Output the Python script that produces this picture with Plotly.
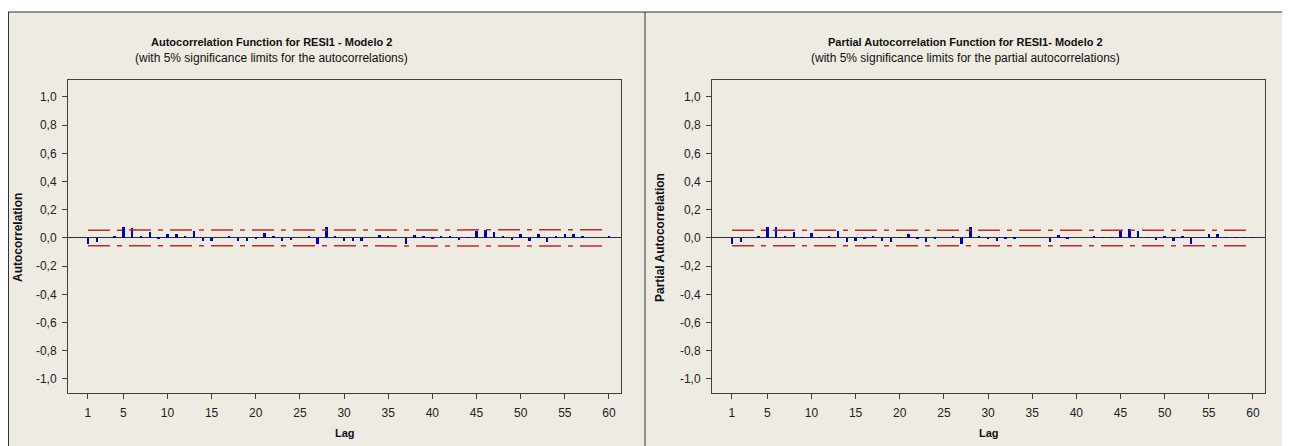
import plotly.graph_objects as go

# ---------------- data ----------------
lags = list(range(1, 61))

acf_values = [
    -0.040, -0.030, 0.000, 0.010, 0.075, 0.070, 0.010, 0.045, -0.010, 0.030,
    0.030, 0.010, 0.050, -0.025, -0.020, 0.000, 0.010, -0.020, -0.025, -0.005,
    0.035, 0.010, -0.025, -0.015, 0.000, 0.010, -0.045, 0.075, 0.010, -0.020,
    -0.025, -0.020, 0.000, 0.020, 0.010, 0.000, -0.040, 0.020, 0.010, -0.005,
    0.010, 0.010, -0.015, 0.005, 0.050, 0.055, 0.040, 0.010, -0.015, 0.030,
    -0.025, 0.025, -0.030, 0.010, 0.025, 0.025, 0.010, 0.000, 0.000, 0.010,
]

pacf_values = [
    -0.040, -0.030, 0.000, 0.010, 0.075, 0.075, 0.010, 0.045, 0.005, 0.035,
    0.005, 0.010, 0.050, -0.030, -0.020, -0.005, 0.010, -0.025, -0.030, 0.005,
    0.030, -0.010, -0.030, -0.005, 0.000, 0.010, -0.045, 0.075, 0.010, -0.005,
    -0.025, -0.010, -0.010, 0.000, 0.000, 0.000, -0.030, 0.020, -0.010, 0.000,
    0.000, 0.010, 0.005, 0.005, 0.050, 0.060, 0.050, 0.005, -0.015, 0.010,
    -0.025, 0.010, -0.040, 0.005, 0.025, 0.025, 0.005, 0.005, 0.005, 0.005,
]

n_obs = 1320  # series length implied by the 5% limits (2/sqrt(n) ~ 0.055)

y_tick_vals = [1.0, 0.8, 0.6, 0.4, 0.2, 0.0, -0.2, -0.4, -0.6, -0.8, -1.0]
y_tick_text = ["1,0", "0,8", "0,6", "0,4", "0,2", "0,0", "-0,2", "-0,4", "-0,6", "-0,8", "-1,0"]
x_tick_vals = [1, 5, 10, 15, 20, 25, 30, 35, 40, 45, 50, 55, 60]

titles = [
    "Autocorrelation Function for RESI1 - Modelo 2",
    "Partial Autocorrelation Function for RESI1- Modelo 2",
]
subtitles = [
    "(with 5% significance limits for the autocorrelations)",
    "(with 5% significance limits for the partial autocorrelations)",
]
y_titles = ["Autocorrelation", "Partial Autocorrelation"]
x_title = "Lag"

# ---------------- limits ----------------
# ACF: Bartlett limits (widen with lag); PACF: constant 2/sqrt(n)
acf_limit = []
s = 0.0
for r in acf_values:
    acf_limit.append(2 * ((1 + 2 * s) / n_obs) ** 0.5)
    s += r * r
pacf_limit = [2 / n_obs ** 0.5 for _ in lags]

# ---------------- layout helpers (page pixel -> paper fraction) ----------------
OFF = 8                      # default body margin of the html page
FW, FH = 1275, 438           # figure size
def px(x):
    return (x - OFF) / FW
def py(y):
    return 1 - (y - OFF) / FH

BG = "#EEEBE3"
FONT = "Liberation Sans, Arial, sans-serif"
BLUE = "#0000C8"
RED = "#C82828"
DASH = "22px,7px,5px,7px"

boxes = [(68, 621), (712, 1265)]
box_top, box_bot = 80, 393

fig = go.Figure()

series = [(acf_values, acf_limit), (pacf_values, pacf_limit)]
for i, (vals, lim) in enumerate(series):
    xa = "x" if i == 0 else "x2"
    ya = "y" if i == 0 else "y2"
    fig.add_trace(go.Bar(x=lags, y=vals, width=0.28, marker=dict(color=BLUE, line=dict(width=0)),
                         xaxis=xa, yaxis=ya, showlegend=False))
    fig.add_trace(go.Scatter(x=lags, y=lim, mode="lines", line=dict(color=RED, width=1.5, dash=DASH),
                             xaxis=xa, yaxis=ya, showlegend=False))
    fig.add_trace(go.Scatter(x=lags, y=[-v for v in lim], mode="lines",
                             line=dict(color=RED, width=1.5, dash=DASH),
                             xaxis=xa, yaxis=ya, showlegend=False))

axis_common = dict(showgrid=False, showline=True, mirror=True, linecolor="#404040", linewidth=1,
                   ticks="outside", ticklen=5, tickcolor="#404040",
                   tickfont=dict(family=FONT, size=12, color="#222"))

for i, (x0, x1) in enumerate(boxes):
    sfx = "" if i == 0 else "2"
    fig.update_layout(**{
        "xaxis" + sfx: dict(domain=[px(x0), px(x1)], range=[-1.26, 61.36], tickvals=x_tick_vals,
                            anchor="y" + sfx, zeroline=False, ticklabelstandoff=4, **axis_common),
        "yaxis" + sfx: dict(domain=[py(box_bot), py(box_top)], range=[-1.10, 1.12],
                            tickvals=y_tick_vals, ticktext=y_tick_text, anchor="x" + sfx,
                            zeroline=True, zerolinecolor="#303030", zerolinewidth=1,
                            ticklabelstandoff=3, **axis_common),
    })

title_cx = [271, 965]
ytitle_x = [18, 660]
annotations = []
for i in range(2):
    x0, x1 = boxes[i]
    annotations.append(dict(x=px(title_cx[i]), y=py(42), xref="paper", yref="paper", text="<b>" + titles[i] + "</b>",
                            showarrow=False, font=dict(family=FONT, size=11, color="#111"), xanchor="center", yanchor="middle"))
    annotations.append(dict(x=px(title_cx[i]), y=py(58), xref="paper", yref="paper", text=subtitles[i],
                            showarrow=False, font=dict(family=FONT, size=12, color="#111"), xanchor="center", yanchor="middle"))
    annotations.append(dict(x=px((x0 + x1) / 2), y=py(433), xref="paper", yref="paper", text="<b>" + x_title + "</b>",
                            showarrow=False, font=dict(family=FONT, size=11, color="#111"), xanchor="center", yanchor="middle"))
    annotations.append(dict(x=px(ytitle_x[i]), y=py(238), xref="paper", yref="paper", text="<b>" + y_titles[i] + "</b>",
                            showarrow=False, textangle=-90, font=dict(family=FONT, size=12, color="#111"),
                            xanchor="center", yanchor="middle"))

LINE = dict(color="#333", width=1)
shapes = [
    dict(type="rect", xref="paper", yref="paper", x0=px(8), x1=px(1283), y0=py(470), y1=py(12),
         fillcolor=BG, line=dict(width=0), layer="below"),
    dict(type="line", xref="paper", yref="paper", x0=px(8), x1=px(1283), y0=py(12), y1=py(12), line=LINE),
    dict(type="line", xref="paper", yref="paper", x0=px(8.5), x1=px(8.5), y0=py(12), y1=py(470), line=LINE),
    dict(type="line", xref="paper", yref="paper", x0=px(1282.5), x1=px(1282.5), y0=py(12), y1=py(470), line=LINE),
    dict(type="line", xref="paper", yref="paper", x0=px(645), x1=px(645), y0=py(12), y1=py(470), line=LINE),
]

fig.update_layout(
    width=FW, height=FH, margin=dict(l=0, r=0, t=0, b=0),
    paper_bgcolor="white", plot_bgcolor="white", barmode="overlay", bargap=0,
    annotations=annotations, shapes=shapes, showlegend=False,
    font=dict(family=FONT),
)

fig.write_html("out.html")
